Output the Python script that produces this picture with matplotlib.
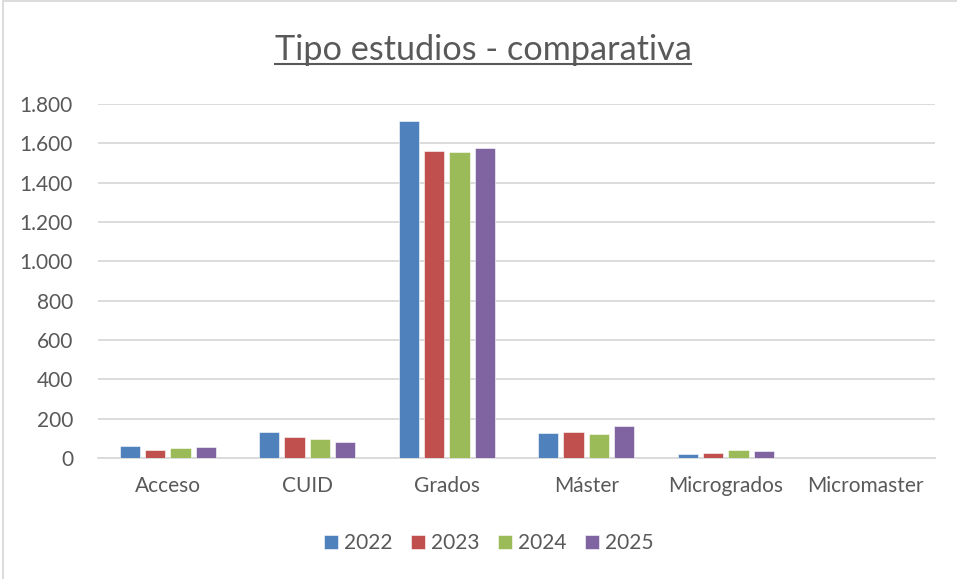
"""
Tipo estudios - comparativa: grouped bar chart by study type and year.
"""

import matplotlib.pyplot as plt
import numpy as np
from matplotlib.lines import Line2D
from matplotlib.patches import Rectangle
from matplotlib.ticker import FuncFormatter

categories = ["Acceso", "CUID", "Grados", "Máster", "Microgrados", "Micromaster"]
years = ["2022", "2023", "2024", "2025"]
values_2022 = [59, 130, 1712, 125, 22, 0]
values_2023 = [41, 109, 1561, 130, 25, 0]
values_2024 = [51, 95, 1556, 124, 39, 0]
values_2025 = [54, 83, 1578, 161, 36, 0]
y_ticks = [0, 200, 400, 600, 800, 1000, 1200, 1400, 1600, 1800]

colors = ["#4F81BD", "#C0504D", "#9BBB59", "#8064A2"]
text_color = "#595959"
grid_color = "#D9D9D9"

plt.rcParams["font.family"] = ["Lato", "DejaVu Sans"]

fig = plt.figure(figsize=(9.57, 5.79), dpi=100)
ax = fig.add_axes([98 / 957, 1 - 458 / 579, (935 - 98) / 957, (458 - 104) / 579])

series = [values_2022, values_2023, values_2024, values_2025]
x = np.arange(len(categories))
step = 0.182
width = 0.145
for i, (vals, year) in enumerate(zip(series, years)):
    offset = (i - 1.5) * step
    ax.bar(x + offset, vals, width=width, color=colors[i], label=year,
           edgecolor="white", linewidth=0.4, zorder=3)

ax.set_xlim(-0.5, len(categories) - 0.5)
ax.set_ylim(0, 1800)
ax.set_yticks(y_ticks)
ax.yaxis.set_major_formatter(FuncFormatter(lambda v, _: f"{int(v):,}".replace(",", ".")))
ax.set_xticks(x)
ax.set_xticklabels(categories)

ax.grid(axis="y", color=grid_color, linewidth=1.3, zorder=0)
for side in ["top", "right", "left"]:
    ax.spines[side].set_visible(False)
ax.spines["bottom"].set_color(grid_color)
ax.spines["bottom"].set_linewidth(1.3)
ax.tick_params(axis="both", length=0, colors=text_color, labelsize=15)
ax.tick_params(axis="y", pad=18)
ax.tick_params(axis="x", pad=13)

title = fig.text(483 / 957, 1 - 50 / 579, "Tipo estudios - comparativa",
                 ha="center", va="center", fontsize=24.7, color=text_color)

fig.legend(loc="center", bbox_to_anchor=(489 / 957, 1 - 543 / 579), ncol=4,
           frameon=False, fontsize=15, labelcolor=text_color,
           handlelength=0.65, handleheight=0.65, handletextpad=0.3, columnspacing=0.9)

# chart frame
fig.add_artist(Rectangle((3 / 957, -0.05), 1.2, 1.05 - 1 / 579, transform=fig.transFigure,
                         fill=False, edgecolor=grid_color, linewidth=1.3))

# underline the title
fig.canvas.draw()
bb = title.get_window_extent().transformed(fig.transFigure.inverted())
fig.add_artist(Line2D([bb.x0, bb.x1], [bb.y0 + 0.004, bb.y0 + 0.004], transform=fig.transFigure,
                      color=text_color, linewidth=1.5))

fig.savefig("out.png", dpi=100)
